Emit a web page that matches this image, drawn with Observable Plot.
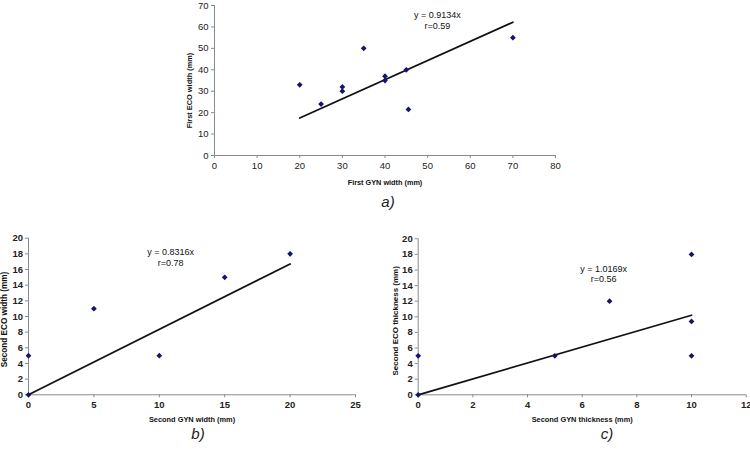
<!DOCTYPE html>
<html>
<head>
<meta charset="utf-8">
<script src="https://cdn.jsdelivr.net/npm/d3@7"></script>
<script src="https://cdn.jsdelivr.net/npm/@observablehq/plot@0.6"></script>
<style>
  html, body { margin: 0; padding: 0; background: #fff; }
  #wrap { position: relative; width: 750px; height: 451px; overflow: hidden; font-family: "Liberation Sans", Arial, sans-serif; }
  .panel { position: absolute; }
  .plabel { position: absolute; font-style: italic; font-size: 15px; line-height: 15px; transform: translateX(-50%); color: #222; }
</style>
</head>
<body>
<div id="wrap">
  <div class="panel" id="pa" style="left:150px;top:0px"></div>
  <div class="panel" id="pb" style="left:0px;top:225px"></div>
  <div class="panel" id="pc" style="left:380px;top:225px"></div>
  <div class="plabel" style="left:388px;top:194px">a)</div>
  <div class="plabel" style="left:198px;top:425.5px">b)</div>
  <div class="plabel" style="left:607px;top:425.5px">c)</div>
</div>
<script>
// Panel a) First GYN width vs First ECO width
const aGyn = [20, 25, 30, 30, 35, 40, 40, 45, 45.5, 70];
const aEco = [33, 24, 32, 30, 50, 37, 35, 40, 21.5, 55];
const aTrendX = [20, 70];
const aTrendY = [17.5, 62.2];
const aText = "y = 0.9134x\nr=0.59";
const aXTicks = [0, 10, 20, 30, 40, 50, 60, 70, 80];
const aYTicks = [0, 10, 20, 30, 40, 50, 60, 70];

// Panel b) Second GYN width vs Second ECO width
const bGyn = [0, 0, 5, 10, 15, 20];
const bEco = [5, 0, 11, 5, 15, 18];
const bTrendX = [0, 20];
const bTrendY = [0, 16.7];
const bText = "y = 0.8316x\nr=0.78";
const bXTicks = [0, 5, 10, 15, 20, 25];
const bYTicks = [0, 2, 4, 6, 8, 10, 12, 14, 16, 18, 20];

// Panel c) Second GYN thickness vs Second ECO thickness
const cGyn = [0, 0, 5, 7, 10, 10, 10];
const cEco = [5, 0, 5, 12, 18, 9.4, 5];
const cTrendX = [0, 10];
const cTrendY = [0, 10.2];
const cText = "y = 1.0169x\nr=0.56";
const cXTicks = [0, 2, 4, 6, 8, 10, 12];
const cYTicks = [0, 2, 4, 6, 8, 10, 12, 14, 16, 18, 20];

const FONT = "Liberation Sans, Arial, sans-serif";
const MARK = "#14146e";
const AXIS = "#8a8a8a";

function zip(xs, ys) { return xs.map((x, i) => ({x, y: ys[i]})); }

function panel(o) {
  const pts = zip(o.xs, o.ys);
  const trend = zip(o.tx, o.ty);
  return Plot.plot({
    width: o.width, height: o.height,
    marginLeft: o.ml, marginRight: o.mr, marginTop: o.mt, marginBottom: o.mb,
    style: {fontFamily: FONT, background: "white", overflow: "visible"},
    x: {domain: o.xdom},
    y: {domain: o.ydom},
    marks: [
      Plot.axisX({ticks: o.xticks, tickSize: 3, tickPadding: o.xpad, stroke: AXIS, fill: "#222",
        fontSize: o.tfs, fontWeight: o.tw, label: null}),
      Plot.axisY({ticks: o.yticks, tickSize: 3, tickPadding: o.ypad, stroke: AXIS, fill: "#222",
        fontSize: o.tfs, fontWeight: o.tw, label: null}),
      Plot.ruleX([o.xdom[0]], {stroke: AXIS}),
      Plot.ruleY([o.ydom[0]], {stroke: AXIS}),
      Plot.line(trend, {x: "x", y: "y", stroke: "#111", strokeWidth: 1.8}),
      Plot.dot(pts, {x: "x", y: "y", symbol: "diamond2", r: 2.6, fill: MARK, stroke: "none"}),
      Plot.text([o.text], {x: o.textX, y: o.textY, text: d => d, fontSize: 9, fill: "#111",
        lineAnchor: "middle", lineHeight: 1.15}),
      Plot.text([o.xlabel], {frameAnchor: "bottom", text: d => d, dy: o.xlabDy, lineAnchor: "middle",
        textAnchor: "middle", fontSize: o.xlabSize, fontWeight: "bold", fill: "#111"}),
      Plot.text([o.ylabel], {frameAnchor: "left", text: d => d, dx: o.ylabDx, dy: o.ylabDy, rotate: -90,
        textAnchor: "middle", lineAnchor: "middle", fontSize: o.ylabSize, fontWeight: "bold", fill: "#111"})
    ]
  });
}

document.getElementById("pa").appendChild(panel({
  xs: aGyn, ys: aEco, tx: aTrendX, ty: aTrendY, text: aText, textX: 52.3, textY: 63.1,
  width: 420, height: 185, ml: 64, mr: 15, mt: 5, mb: 30,
  xdom: [0, 80], ydom: [0, 70], xticks: aXTicks, yticks: aYTicks, xpad: 4, ypad: 3, tw: "normal", tfs: 9.5,
  xlabel: "First GYN width (mm)", ylabel: "First ECO width (mm)",
  xlabDy: 27, ylabDx: -25, ylabDy: 10, xlabSize: 7.3, ylabSize: 7.4
}));

document.getElementById("pb").appendChild(panel({
  xs: bGyn, ys: bEco, tx: bTrendX, ty: bTrendY, text: bText, textX: 10.86, textY: 17.57,
  width: 370, height: 200, ml: 28, mr: 15, mt: 12.7, mb: 30.7,
  xdom: [0, 25], ydom: [0, 20], xticks: bXTicks, yticks: bYTicks, xpad: 3, ypad: 2.5, tw: "bold", tfs: 9.5,
  xlabel: "Second GYN width (mm)", ylabel: "Second ECO width (mm)",
  xlabDy: 24.5, ylabDx: -24, ylabDy: 3, xlabSize: 7.4, ylabSize: 8.2
}));

document.getElementById("pc").appendChild(panel({
  xs: cGyn, ys: cEco, tx: cTrendX, ty: cTrendY, text: cText, textX: 6.78, textY: 15.5,
  width: 370, height: 200, ml: 37.7, mr: 4.3, mt: 13.3, mb: 30.7,
  xdom: [0, 12], ydom: [0, 20], xticks: cXTicks, yticks: cYTicks, xpad: 3, ypad: 2.5, tw: "bold", tfs: 9.5,
  xlabel: "Second GYN thickness (mm)", ylabel: "Second ECO thickness (mm)",
  xlabDy: 24.5, ylabDx: -23, ylabDy: 4, xlabSize: 7.4, ylabSize: 8
}));
</script>
</body>
</html>
